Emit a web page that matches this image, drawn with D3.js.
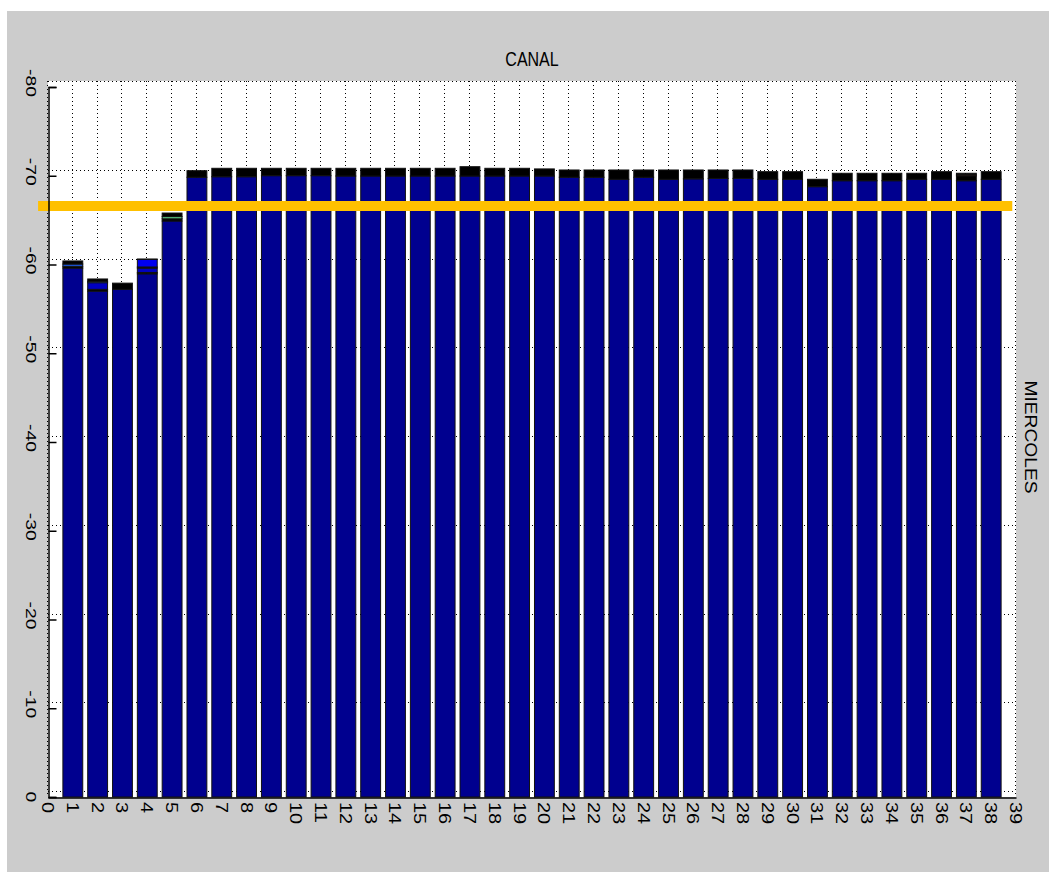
<!DOCTYPE html>
<html>
<head>
<meta charset="utf-8">
<script src="https://cdn.jsdelivr.net/npm/d3@7"></script>
<style>
  html, body { margin: 0; padding: 0; background: #ffffff; }
  svg { display: block; }
  text { font-family: "Liberation Sans", Arial, sans-serif; fill: #000; }
</style>
</head>
<body>
<svg id="chart" width="1049" height="872"></svg>
<script>
// ---------------- DATA ----------------
const categories = d3.range(1, 39);               // canales 1..38
const xTickValues = d3.range(0, 40);               // 0..39
const yTickValues = [0, -10, -20, -30, -40, -50, -60, -70, -80];
const title = "CANAL";
const rightLabel = "MIERCOLES";
const threshold = [-66.6];                          // orange reference line

// stacked segments (magnitudes, stacked upward toward more negative values)
const base = [59.6, 57.0, 57.2, 58.95, 64.9,
  69.83, 69.89, 69.89, 70.01, 70.01, 70.01, 69.97, 69.97, 69.97, 69.97, 69.97, 69.97, 69.97, 69.97, 69.97,
  69.83, 69.83, 69.60, 69.83, 69.60, 69.65, 69.70, 69.70, 69.60, 69.60, 68.77, 69.44, 69.44, 69.44, 69.60,
  69.60, 69.44, 69.60];
const blackLow = [0.2, 0.2, 0, 0.15, 0.25,
  0,0,0,0,0,0,0,0,0,0,0,0,0,0,0, 0,0,0,0,0,0,0,0,0,0,0,0,0,0,0,0, 0.55, 0];
const midBlue = [0, 0.75, 0, 0.5, 0,
  0,0,0,0,0,0,0,0,0,0,0,0,0,0,0, 0,0,0,0,0,0,0,0,0,0,0,0,0,0,0,0, 0, 0];
const blackMid = [0, 0, 0, 0.12, 0,
  0,0,0,0,0,0,0,0,0,0,0,0,0,0,0, 0,0,0,0,0,0,0,0,0,0,0,0,0,0,0,0, 0, 0];
const brightBlue = [0, 0, 0, 0.85, 0,
  0,0,0,0,0,0,0,0,0,0,0,0,0,0,0, 0,0,0,0,0,0,0,0,0,0,0,0,0,0,0,0, 0, 0];
const lightBlue = [0.25, 0.15, 0, 0, 0,
  0,0,0,0,0,0,0,0,0,0,0,0,0,0,0, 0,0,0,0,0,0,0,0,0,0,0,0,0,0,0,0, 0, 0];
const green = [0, 0, 0, 0, 0.25,
  0,0,0,0,0,0,0,0,0,0,0,0,0,0,0, 0,0,0,0,0,0,0,0,0,0,0,0,0,0,0,0, 0, 0];
const red = [0, 0, 0, 0, 0,
  0,0,0,0,0,0,0,0,0,0,0,0,0,0,0, 0,0,0,0,0,0,0,0,0,0,0,0,0,0,0,0, 0.12, 0];
const blackTop = [0.35, 0.27, 0.7, 0.05, 0.4,
  0.74, 0.95, 0.95, 0.83, 0.83, 0.83, 0.87, 0.87, 0.87, 0.87, 0.87, 1.05, 0.87, 0.87, 0.80,
  0.82, 0.82, 1.05, 0.82, 1.05, 1.0, 0.95, 0.95, 0.86, 0.86, 0.83, 0.84, 0.84, 0.84, 0.68,
  0.86, 0.17, 0.86];

const seriesNames = ["base","blackLow","midBlue","blackMid","brightBlue","lightBlue","green","red","blackTop"];
const seriesData  = [base, blackLow, midBlue, blackMid, brightBlue, lightBlue, green, red, blackTop];
const seriesColors = ["#00008f","#000000","#0000c0","#000000","#0000f0","#1e64ff","#5cc882","#e0401c","#000000"];

// ---------------- LAYOUT ----------------
const svg = d3.select("#chart");
const W = 1049, H = 872;
const plot = { left: 48, right: 1016, top: 87, bottom: 797 };
const gridShift = -6;

svg.append("rect").attr("x", 7).attr("y", 11).attr("width", W - 7).attr("height", H - 11).attr("fill", "#cccccc");

const x = d3.scaleLinear().domain([0, 39]).range([plot.left, plot.right]);
const y = d3.scaleLinear().domain([0, -80]).range([plot.bottom, plot.top]);
const barW = (x(1) - x(0)) * 0.8;

// white axes area
svg.append("rect")
  .attr("x", plot.left).attr("y", y(-80) + gridShift)
  .attr("width", plot.right - plot.left).attr("height", plot.bottom - (y(-80) + gridShift))
  .attr("fill", "#ffffff");

// grid (dotted)
const grid = svg.append("g").attr("stroke", "#000").attr("stroke-width", 1).attr("stroke-dasharray", "1,3");
grid.selectAll("line.h").data(yTickValues).join("line")
  .attr("x1", plot.left).attr("x2", plot.right)
  .attr("y1", d => Math.round(y(d) + gridShift) + 0.5).attr("y2", d => Math.round(y(d) + gridShift) + 0.5);
grid.selectAll("line.v").data(xTickValues).join("line")
  .attr("x1", d => Math.round(x(d)) - 0.5).attr("x2", d => Math.round(x(d)) - 0.5)
  .attr("y1", y(-80) + gridShift).attr("y2", plot.bottom);

// stacked bars
const table = categories.map((c, i) => {
  const row = { cat: c };
  seriesNames.forEach((n, k) => row[n] = seriesData[k][i]);
  return row;
});
const stacked = d3.stack().keys(seriesNames)(table);
svg.append("g").selectAll("g").data(stacked).join("g")
  .attr("fill", (d, k) => seriesColors[k])
  .selectAll("rect").data(d => d.filter(s => s[1] - s[0] > 0)).join("rect")
  .attr("x", d => x(d.data.cat) - barW / 2)
  .attr("width", barW)
  .attr("y", d => y(-d[1]))
  .attr("height", d => y(-d[0]) - y(-d[1]))
  .attr("stroke", "#111")
  .attr("stroke-width", 1);

// orange threshold line
svg.append("g").selectAll("line").data(threshold).join("line")
  .attr("x1", x(-0.4)).attr("x2", x(38.85))
  .attr("y1", d => y(d)).attr("y2", d => y(d))
  .attr("stroke", "#ffc000").attr("stroke-width", 10);

// axes lines
const yAxis = d3.axisRight(y).tickValues(yTickValues).tickSize(8).tickFormat("");
const gy = svg.append("g").attr("transform", `translate(${plot.left + 0.5},0)`).call(yAxis);
gy.select(".domain").attr("stroke", "#000").attr("stroke-width", 1.5);
gy.selectAll(".tick line").attr("stroke", "#000").attr("stroke-width", 1.5);

const xAxis = d3.axisBottom(x).tickValues(xTickValues).tickSize(0).tickFormat("");
const gx = svg.append("g").attr("transform", `translate(0,${plot.bottom + 0.5})`).call(xAxis);
gx.select(".domain").attr("stroke", "#000").attr("stroke-width", 1.5);

// rotated tick labels
const stretch = 1.25;
svg.append("g").selectAll("text").data(yTickValues).join("text")
  .attr("transform", d => `translate(26,${y(d) - (d === 0 ? 0 : 4)}) scale(1,${stretch}) rotate(90)`)
  .attr("text-anchor", "middle")
  .attr("font-size", 15.5)
  .text(d => String(d));

svg.append("g").selectAll("text").data(xTickValues).join("text")
  .attr("transform", d => `translate(${x(d) - 6},${plot.bottom + 5}) scale(1,${stretch}) rotate(90)`)
  .attr("text-anchor", "start")
  .attr("font-size", 16)
  .text(d => String(d));

// title
svg.append("text")
  .attr("transform", `translate(${(plot.left + plot.right) / 2},66) scale(1,${stretch})`)
  .attr("text-anchor", "middle").attr("font-size", 16)
  .text(title);

// right label
svg.append("text")
  .attr("transform", `translate(1025,437) scale(1,1.13) rotate(90)`)
  .attr("text-anchor", "middle").attr("font-size", 17)
  .text(rightLabel);
</script>
</body>
</html>
